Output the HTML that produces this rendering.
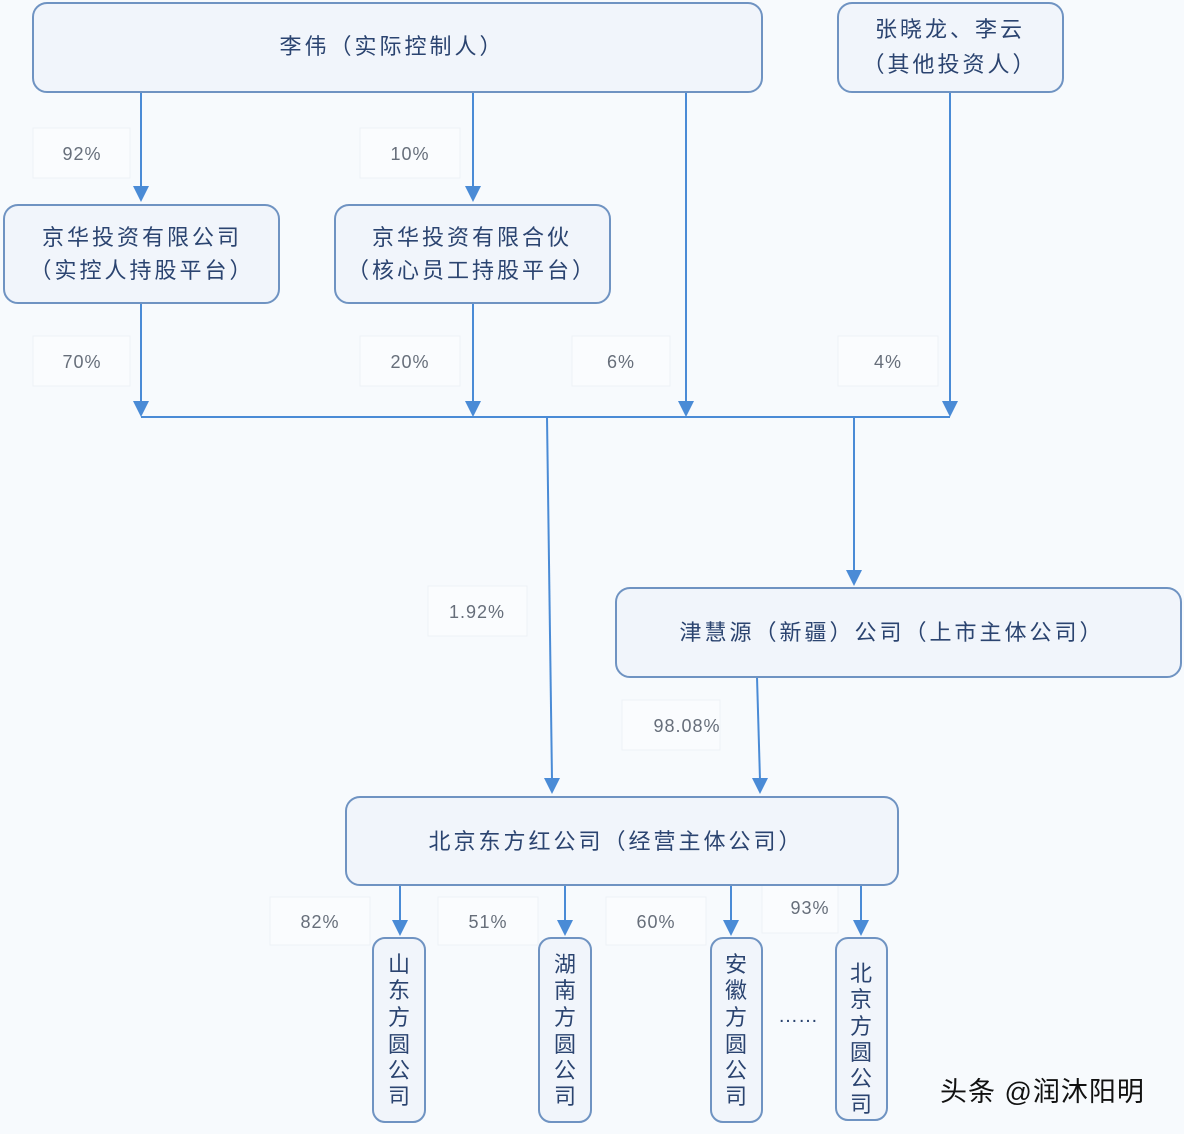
<!DOCTYPE html>
<html><head><meta charset="utf-8"><style>
html,body{margin:0;padding:0;background:#f7fafd;}
svg{display:block}
text{font-family:"Liberation Sans","Noto Sans CJK SC",sans-serif;fill:#2b4470;}
.b{fill:#f1f5fb;stroke:#6f93c2;stroke-width:2}
.l{fill:#fafcfe;stroke:#eef2f6;stroke-width:1}
.p{font-size:18px;fill:#666e7a;text-anchor:middle;letter-spacing:1px}
.a{stroke:#4a8bd6;stroke-width:2;fill:none}
.h{fill:#4a8bd6}
.t{font-size:22px;text-anchor:middle;letter-spacing:3px}
.v{font-size:22px;text-anchor:middle}
</style></head><body>
<svg width="1184" height="1134" viewBox="0 0 1184 1134">
<rect class="l" x="33" y="128" width="97" height="50"/><text class="p" x="82" y="160">92%</text>
<rect class="l" x="360" y="128" width="100" height="50"/><text class="p" x="410" y="160">10%</text>
<rect class="l" x="33" y="336" width="97" height="50"/><text class="p" x="82" y="368">70%</text>
<rect class="l" x="360" y="336" width="100" height="50"/><text class="p" x="410" y="368">20%</text>
<rect class="l" x="572" y="336" width="98" height="50"/><text class="p" x="621" y="368">6%</text>
<rect class="l" x="838" y="336" width="100" height="50"/><text class="p" x="888" y="368">4%</text>
<rect class="l" x="428" y="586" width="99" height="50"/><text class="p" x="477" y="618">1.92%</text>
<rect class="l" x="622" y="700" width="98" height="50"/><text class="p" x="687" y="732">98.08%</text>
<rect class="l" x="270" y="897" width="100" height="48"/><text class="p" x="320" y="928">82%</text>
<rect class="l" x="438" y="897" width="100" height="48"/><text class="p" x="488" y="928">51%</text>
<rect class="l" x="606" y="897" width="100" height="48"/><text class="p" x="656" y="928">60%</text>
<rect class="l" x="762" y="885" width="76" height="48"/><text class="p" x="810" y="914">93%</text>
<g class="a">
<path d="M141 92V188"/>
<path d="M473 92V188"/>
<path d="M686 92V403"/>
<path d="M950 92V403"/>
<path d="M141 303V403"/>
<path d="M473 303V403"/>
<path d="M141 417H950"/>
<path d="M547 417L552 780"/>
<path d="M854 417V572"/>
<path d="M757 677L760 780"/>
<path d="M400 885V922"/>
<path d="M565 885V922"/>
<path d="M731 885V922"/>
<path d="M861 885V922"/>
</g>
<g class="h">
<polygon points="133,186 149,186 141,202"/>
<polygon points="465,186 481,186 473,202"/>
<polygon points="678,401 694,401 686,417"/>
<polygon points="942,401 958,401 950,417"/>
<polygon points="133,401 149,401 141,417"/>
<polygon points="465,401 481,401 473,417"/>
<polygon points="846,570 862,570 854,586"/>
<polygon points="544,778 560,778 552,794"/>
<polygon points="752,778 768,778 760,794"/>
<polygon points="392,920 408,920 400,936"/>
<polygon points="557,920 573,920 565,936"/>
<polygon points="723,920 739,920 731,936"/>
<polygon points="853,920 869,920 861,936"/>
</g>
<rect class="b" x="33" y="3" width="729" height="89" rx="14"/>
<text class="t" x="392" y="54">李伟（实际控制人）</text>
<rect class="b" x="838" y="3" width="225" height="89" rx="14"/>
<text class="t" x="950" y="37">张晓龙、李云</text>
<text class="t" x="950" y="72">（其他投资人）</text>
<rect class="b" x="4" y="205" width="275" height="98" rx="14"/>
<text class="t" x="142" y="245">京华投资有限公司</text>
<text class="t" x="142" y="278">（实控人持股平台）</text>
<rect class="b" x="335" y="205" width="275" height="98" rx="14"/>
<text class="t" x="472" y="245">京华投资有限合伙</text>
<text class="t" x="472" y="278">（核心员工持股平台）</text>
<rect class="b" x="616" y="588" width="565" height="89" rx="14"/>
<text class="t" x="892" y="640">津慧源（新疆）公司（上市主体公司）</text>
<rect class="b" x="346" y="797" width="552" height="88" rx="14"/>
<text class="t" x="616" y="849">北京东方红公司（经营主体公司）</text>
<rect class="b" x="373" y="938" width="52" height="184" rx="12"/>
<rect class="b" x="539" y="938" width="52" height="184" rx="12"/>
<rect class="b" x="711" y="938" width="51" height="184" rx="12"/>
<rect class="b" x="836" y="938" width="51" height="182" rx="12"/>
<g class="v">
<text x="399" y="972">山</text><text x="399" y="998">东</text><text x="399" y="1025">方</text><text x="399" y="1052">圆</text><text x="399" y="1078">公</text><text x="399" y="1104">司</text>
<text x="565" y="972">湖</text><text x="565" y="998">南</text><text x="565" y="1025">方</text><text x="565" y="1052">圆</text><text x="565" y="1078">公</text><text x="565" y="1104">司</text>
<text x="736" y="972">安</text><text x="736" y="998">徽</text><text x="736" y="1025">方</text><text x="736" y="1052">圆</text><text x="736" y="1078">公</text><text x="736" y="1104">司</text>
<text x="861" y="981">北</text><text x="861" y="1007">京</text><text x="861" y="1034">方</text><text x="861" y="1060">圆</text><text x="861" y="1086">公</text><text x="861" y="1112">司</text>
</g>
<text x="798" y="1022" style="font-size:20px;text-anchor:middle">……</text>
<text x="940" y="1101" style="font-size:27px;fill:#111;letter-spacing:1px">头条 @润沐阳明</text>
</svg>
</body></html>
